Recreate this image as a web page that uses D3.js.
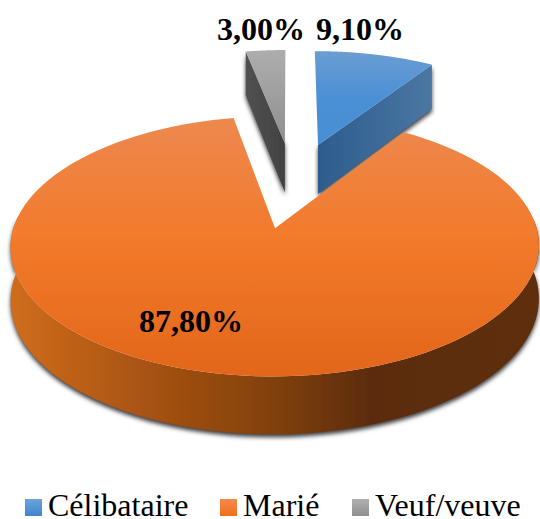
<!DOCTYPE html>
<html>
<head>
<meta charset="utf-8">
<script src="https://cdn.jsdelivr.net/npm/d3@7"></script>
<style>
html, body { margin: 0; padding: 0; background: #fff; }
text { font-family: "Liberation Serif", serif; fill: #000; }
</style>
</head>
<body>
<script>
const categories = ["Célibataire", "Marié", "Veuf/veuve"];
const values = [9.1, 87.8, 3.0];
const valueLabels = ["9,10%", "87,80%", "3,00%"];

const width = 540, height = 519;

// perspective of the tilted disc, u to the right, v towards the viewer (fitted by eye)
function project(u, v) {
    const den = 1 - 0.138 * v;
    return [(276.5 + 261 * u - 40 * v) / den, (226 + 95.8 * v) / den];
}
function depthAt(u, v) {
    return 90.5 - 38 * (1 - 0.138 * v);
}
const pieCenter = [0.065, -0.345], explode = 0.37;

const svg = d3.select("body").append("svg")
    .attr("width", width).attr("height", height)
    .style("display", "block");
const defs = svg.append("defs");

function vGradient(id, stops, y1, y2) {
    const g = defs.append("linearGradient").attr("id", id)
        .attr("gradientUnits", "userSpaceOnUse")
        .attr("x1", 0).attr("x2", 0).attr("y1", y1).attr("y2", y2);
    stops.forEach((c, i) => g.append("stop").attr("offset", i / (stops.length - 1)).attr("stop-color", c));
}
function hGradient(id, stops, x1, x2) {
    const g = defs.append("linearGradient").attr("id", id)
        .attr("gradientUnits", "userSpaceOnUse")
        .attr("y1", 0).attr("y2", 0).attr("x1", x1).attr("x2", x2);
    stops.forEach(s => g.append("stop").attr("offset", s[0]).attr("stop-color", s[1]));
}
vGradient("topBlue", ["#6a9dd2", "#4a90d6", "#4a8ed2"], 52, 145);
vGradient("topOrange", ["#ec8a52", "#f37a2b", "#e2661a"], 105, 375);
vGradient("topGray", ["#adadad", "#8e8e8e"], 52, 145);
vGradient("keyBlue", ["#6ba3dc", "#3f86cc"], 499, 516);
vGradient("keyOrange", ["#f58a4c", "#ee7018"], 499, 516);
vGradient("keyGray", ["#b0b0b0", "#909090"], 499, 516);
hGradient("wallOrange", [[0, "#cf6c1c"], [0.25, "#a85312"], [0.5, "#80400d"], [0.68, "#5c2c09"], [1, "#5e2f0c"]], 14, 538);
hGradient("wallBlue", [[0, "#2c5c8c"], [1, "#4a76a2"]], 316, 430);
hGradient("wallGray", [[0, "#505050"], [1, "#404040"]], 249, 287);

const blur = defs.append("filter").attr("id", "shadow")
    .attr("x", "-10%").attr("y", "-10%").attr("width", "120%").attr("height", "120%");
blur.append("feGaussianBlur").attr("stdDeviation", 2.2);
const soft = defs.append("filter").attr("id", "soft");
soft.append("feGaussianBlur").attr("stdDeviation", 0.5);

const pie = d3.pie().sort(null).value(d => d).startAngle(0).endAngle(2 * Math.PI);
const slices = pie(values);
const line = d3.line();

function rimPoints(offset, a0, a1) {
    return d3.range(0, 121).map(i => {
        const a = a0 + (a1 - a0) * i / 120;
        return [offset[0] + Math.sin(a), offset[1] - Math.cos(a)];
    });
}
function toScreen(p, down) {
    const xy = project(p[0], p[1]);
    return [xy[0], xy[1] + (down ? depthAt(p[0], p[1]) : 0)];
}

// one layer per slice, back to front
const order = [2, 0, 1];
const topFill = ["url(#topBlue)", "url(#topOrange)", "url(#topGray)"];
const wallFill = ["url(#wallBlue)", "url(#wallOrange)", "url(#wallGray)"];
const shadowLayer = svg.append("g");
const markLayer = svg.append("g").attr("filter", "url(#soft)");

order.forEach(i => {
    const s = slices[i];
    // gray sits just left of twelve o'clock, so take its angles negative
    const shift = i === 2 ? -2 * Math.PI : 0;
    const a0 = s.startAngle + shift, a1 = s.endAngle + shift;
    const mid = (a0 + a1) / 2;
    const off = [pieCenter[0] + explode * Math.sin(mid), pieCenter[1] - explode * Math.cos(mid)];
    const rim = rimPoints(off, a0, a1);

    let wall;
    if (i === 1) {
        // front of the rim, where the outward normal looks down the screen
        const front = rim.filter(p => (p[1] - off[1]) > -0.12);
        wall = front.map(p => toScreen(p, false))
            .concat(front.slice().reverse().map(p => toScreen(p, true)));
    } else if (i === 0) {
        const end = rim[rim.length - 1];
        wall = [toScreen(off), toScreen(end), toScreen(end, true), toScreen(off, true)];
    } else {
        const start = rim[0];
        wall = [toScreen(start), toScreen(off), toScreen(off, true), toScreen(start, true)];
    }
    shadowLayer.append("path")
        .attr("d", line(wall) + "Z")
        .attr("transform", "translate(0,3)")
        .attr("fill", "#3c3c3c")
        .attr("filter", "url(#shadow)");
    const g = markLayer.append("g");
    g.append("path").attr("d", line(wall) + "Z").attr("fill", wallFill[i]);
    const top = [toScreen(off)].concat(rim.map(p => toScreen(p)));
    g.append("path").attr("d", line(top) + "Z").attr("fill", topFill[i]);
});

// value labels
const labelX = [316, 139, 217], labelY = [40, 332, 40];
svg.selectAll("text.value").data(valueLabels).enter().append("text")
    .attr("class", "value")
    .attr("x", (d, i) => labelX[i])
    .attr("y", (d, i) => labelY[i])
    .attr("font-size", 32).attr("font-weight", "bold")
    .text(d => d);

// legend
const keyFill = ["url(#keyBlue)", "url(#keyOrange)", "url(#keyGray)"];
const keyX = d3.scaleOrdinal().domain(categories).range([25, 220, 352]);
const legend = svg.selectAll("g.key").data(categories).enter().append("g")
    .attr("class", "key")
    .attr("transform", d => "translate(" + keyX(d) + ",0)");
legend.append("rect")
    .attr("y", 499).attr("width", 17).attr("height", 17)
    .attr("fill", (d, i) => keyFill[i]);
legend.append("text")
    .attr("x", 23).attr("y", 516)
    .attr("font-size", 32)
    .text(d => d);
</script>
</body>
</html>
